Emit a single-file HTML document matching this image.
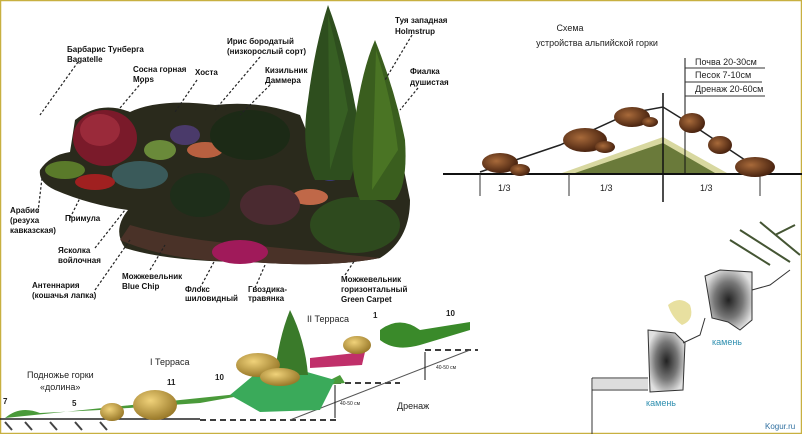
<!DOCTYPE html>
<html><head><meta charset="utf-8"><style>
html,body{margin:0;padding:0;background:#fff}
svg{display:block}
text{font-family:"Liberation Sans","DejaVu Sans",sans-serif}
.b{font-weight:bold;font-size:8px;fill:#111}
.s{font-size:9px;fill:#222}
.d{stroke:#222;stroke-width:1.2;stroke-dasharray:2.5,2;fill:none}
</style></head><body>
<svg width="802" height="434" viewBox="0 0 802 434" xmlns="http://www.w3.org/2000/svg">
<defs>
<radialGradient id="st" cx="50%" cy="50%" r="55%"><stop offset="0" stop-color="#222"/><stop offset="0.55" stop-color="#777"/><stop offset="1" stop-color="#e0e0e0"/></radialGradient>
<radialGradient id="rk" cx="40%" cy="40%" r="60%"><stop offset="0" stop-color="#a86a3a"/><stop offset="1" stop-color="#4a2410"/></radialGradient>
<radialGradient id="yk" cx="40%" cy="35%" r="65%"><stop offset="0" stop-color="#f0d27a"/><stop offset="1" stop-color="#9a7a2a"/></radialGradient>
</defs>
<rect x="0.5" y="0.5" width="801" height="433" fill="#fff" stroke="#c8b040" stroke-width="1.5"/>

<!-- garden bed -->
<path d="M40,170 Q50,155 70,152 L75,120 Q100,100 130,112 Q160,98 215,105 Q260,100 300,115 L310,140 L400,150 L410,200 Q410,240 380,258 Q330,268 250,262 Q170,262 125,248 Q112,230 128,210 Q90,205 55,190 Q38,182 40,170Z" fill="#2a2a1c"/>
<path d="M120,240 Q170,262 250,262 Q330,268 380,258 Q300,250 250,245 Q180,240 130,225Z" fill="#4a3228"/>
<ellipse cx="105" cy="138" rx="32" ry="28" fill="#7a1a2a"/>
<ellipse cx="100" cy="130" rx="20" ry="16" fill="#9a2a3a"/>
<ellipse cx="140" cy="175" rx="28" ry="14" fill="#3a5a5a"/>
<ellipse cx="160" cy="150" rx="16" ry="10" fill="#6a8a3a"/>
<ellipse cx="65" cy="170" rx="20" ry="9" fill="#5a7a2a"/>
<ellipse cx="95" cy="182" rx="20" ry="8" fill="#a02020"/>
<ellipse cx="205" cy="150" rx="18" ry="8" fill="#b86040"/>
<ellipse cx="310" cy="197" rx="18" ry="8" fill="#c06848"/>
<ellipse cx="240" cy="252" rx="28" ry="12" fill="#a01a5a"/>
<ellipse cx="355" cy="225" rx="45" ry="28" fill="#2e4a1e"/>
<ellipse cx="270" cy="205" rx="30" ry="20" fill="#4a2a30"/>
<ellipse cx="200" cy="195" rx="30" ry="22" fill="#1e2e1a"/>
<ellipse cx="250" cy="135" rx="40" ry="25" fill="#1c2a16"/>
<ellipse cx="185" cy="135" rx="15" ry="10" fill="#4a3a6a"/>
<ellipse cx="330" cy="175" rx="10" ry="6" fill="#3a3a7a"/>
<!-- trees -->
<path d="M328,5 Q345,50 356,110 Q362,150 350,180 L315,180 Q300,150 308,100 Q315,45 328,5Z" fill="#2e4e1e"/>
<path d="M328,15 Q340,60 348,110 L330,170 Z" fill="#3e6a26" opacity="0.6"/>
<path d="M375,40 Q395,90 405,140 Q408,185 395,200 L360,200 Q348,170 355,120 Q362,70 375,40Z" fill="#3a5e1e"/>
<path d="M376,50 Q392,100 398,150 L372,190Z" fill="#5a8a2a" opacity="0.5"/>

<!-- leader lines -->
<path class="d" d="M78,62 L40,115 M142,82 L120,108 M197,80 L175,112 M260,57 L215,110 M270,85 L240,115 M412,35 L385,80 M418,88 L400,110 M38,212 L42,178 M70,218 L80,198 M95,248 L125,210 M95,290 L130,240 M150,270 L165,245 M200,288 L215,260 M255,288 L265,265 M345,275 L355,260"/>

<g class="b">
<text x="67" y="52">Барбарис Тунберга</text><text x="67" y="62">Bagatelle</text>
<text x="133" y="72">Сосна горная</text><text x="133" y="82">Mops</text>
<text x="195" y="75">Хоста</text>
<text x="227" y="44">Ирис бородатый</text><text x="227" y="54">(низкорослый сорт)</text>
<text x="265" y="73">Кизильник</text><text x="265" y="83">Даммера</text>
<text x="395" y="23">Туя западная</text><text x="395" y="34">Holmstrup</text>
<text x="410" y="74">Фиалка</text><text x="410" y="85">душистая</text>
<text x="10" y="213">Арабис</text><text x="10" y="223">(резуха</text><text x="10" y="233">кавказская)</text>
<text x="65" y="221">Примула</text>
<text x="58" y="253">Ясколка</text><text x="58" y="263">войлочная</text>
<text x="32" y="288">Антеннария</text><text x="32" y="298">(кошачья лапка)</text>
<text x="122" y="279">Можжевельник</text><text x="122" y="289">Blue Chip</text>
<text x="185" y="292">Флокс</text><text x="185" y="301">шиловидный</text>
<text x="248" y="292">Гвоздика-</text><text x="248" y="301">травянка</text>
<text x="341" y="282">Можжевельник</text><text x="341" y="292">горизонтальный</text><text x="341" y="302">Green Carpet</text>
</g>

<!-- schema -->
<text class="s" x="570" y="31" text-anchor="middle">Схема</text>
<text class="s" x="597" y="46" text-anchor="middle">устройства альпийской горки</text>
<path d="M562,173 L663,137 L727,173Z" fill="#d8d8a0"/>
<path d="M575,173 L663,143 L715,173Z" fill="#6a7a3a"/>
<line x1="443" y1="174" x2="802" y2="174" stroke="#111" stroke-width="2"/>
<line x1="663" y1="93" x2="663" y2="202" stroke="#111" stroke-width="1.5"/>
<line x1="685" y1="58" x2="685" y2="175" stroke="#111"/>
<path d="M480,172 L560,145 L630,113 L663,107 L700,130 L760,170" stroke="#222" stroke-width="1.5" fill="none"/>
<line x1="480" y1="174" x2="480" y2="196" stroke="#333"/>
<line x1="569" y1="174" x2="569" y2="196" stroke="#333"/>
<line x1="760" y1="174" x2="760" y2="196" stroke="#333"/>
<g fill="url(#rk)">
<ellipse cx="500" cy="163" rx="18" ry="10"/><ellipse cx="520" cy="170" rx="10" ry="6"/>
<ellipse cx="585" cy="140" rx="22" ry="12"/><ellipse cx="605" cy="147" rx="10" ry="6"/>
<ellipse cx="632" cy="117" rx="18" ry="10"/><ellipse cx="650" cy="122" rx="8" ry="5"/>
<ellipse cx="692" cy="123" rx="13" ry="10"/>
<ellipse cx="720" cy="145" rx="12" ry="9"/>
<ellipse cx="755" cy="167" rx="20" ry="10"/>
</g>
<g class="s"><text x="695" y="65">Почва 20-30см</text><text x="695" y="78">Песок 7-10см</text><text x="695" y="92">Дренаж 20-60см</text>
<text x="498" y="191">1/3</text><text x="600" y="191">1/3</text><text x="700" y="191">1/3</text></g>
<path d="M685,68 L765,68 M685,82 L762,82 M685,96 L765,96" stroke="#333"/>

<!-- terraces -->
<path d="M0,419 L200,419" stroke="#222" stroke-width="1.5"/>
<path d="M200,420 L340,420 M335,383 L400,383 M425,350 L478,350" stroke="#222" stroke-width="1.8" stroke-dasharray="6,4"/>
<path d="M290,420 L470,350" stroke="#555"/>
<path d="M335,385 L335,418 M425,352 L425,380" stroke="#111"/>
<path d="M5,422 L12,430 M25,422 L32,430 M50,422 L57,430 M75,422 L82,430 M100,422 L107,430" stroke="#444" stroke-width="2"/>
<path d="M5,418 Q20,405 40,413 L100,410 L200,403 L330,380 L340,375 L345,383 Z" fill="#4a9a3a"/>
<path d="M230,395 L260,370 L300,370 L335,380 L320,410 L260,412 Z" fill="#3aaa5a"/>
<path d="M290,310 Q305,340 308,375 L275,375 Q278,340 290,310Z" fill="#3a7a2a"/>
<path d="M310,358 L365,352 L362,365 L310,368Z" fill="#c0306a"/>
<path d="M380,330 Q400,315 420,330 L470,322 L470,330 L420,345 Q395,352 380,340Z" fill="#3a8a2a"/>
<g fill="url(#yk)">
<ellipse cx="155" cy="405" rx="22" ry="15"/><ellipse cx="112" cy="412" rx="12" ry="9"/>
<ellipse cx="258" cy="365" rx="22" ry="12"/><ellipse cx="280" cy="377" rx="20" ry="9"/>
<ellipse cx="357" cy="345" rx="14" ry="9"/>
</g>
<g class="s"><text x="27" y="378">Подножье горки</text><text x="40" y="390">«долина»</text>
<text x="150" y="365">I Терраса</text><text x="307" y="322">II Терраса</text><text x="397" y="409">Дренаж</text>
<text x="3" y="404" font-size="8" font-weight="bold">7</text><text x="72" y="406" font-size="8" font-weight="bold">5</text>
<text x="167" y="385" font-size="8" font-weight="bold">11</text><text x="215" y="380" font-size="8" font-weight="bold">10</text>
<text x="373" y="318" font-size="8" font-weight="bold">1</text><text x="446" y="316" font-size="8" font-weight="bold">10</text>
<text x="340" y="405" font-size="5">40-50 см</text><text x="436" y="369" font-size="5">40-50 см</text></g>

<!-- stones -->
<path d="M705,276 L720,270 L752,272 L752,320 L740,330 L728,322 L712,318 Z" fill="url(#st)" stroke="#333"/>
<path d="M648,330 L675,333 L685,343 L683,390 L650,392 Z" fill="url(#st)" stroke="#333"/>
<path d="M592,378 L592,434 M592,378 L648,378 M592,390 L648,390" stroke="#333"/>
<rect x="593" y="379" width="55" height="10" fill="#ddd"/>
<path d="M683,343 L700,335 L705,318 M752,290 L770,285 L790,270" stroke="#333" fill="none"/>
<path d="M668,305 Q680,295 690,305 Q695,320 682,325 Q672,318 668,305Z" fill="#e8e0a0"/>
<path d="M730,240 L770,265 M740,230 L790,262 M760,222 L800,255 M775,235 L795,225" stroke="#445533" stroke-width="2"/>
<text x="712" y="345" font-size="9" fill="#3090b0">камень</text>
<text x="646" y="406" font-size="9" fill="#3090b0">камень</text>
<text x="765" y="429" font-size="8" fill="#3070a0">Kogur.ru</text>
</svg>
</body></html>
